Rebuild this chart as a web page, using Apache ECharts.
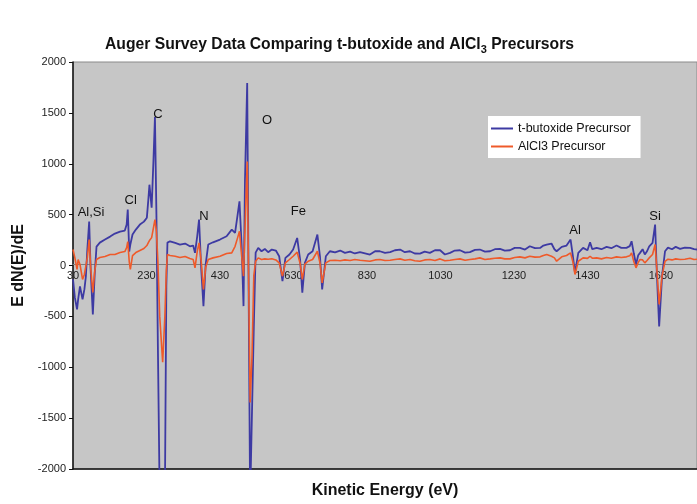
<!DOCTYPE html>
<html>
<head>
<meta charset="utf-8">
<title>Auger Survey Data</title>
<script src="https://cdn.jsdelivr.net/npm/echarts@6/dist/echarts.min.js"></script>
<style>
  html, body { margin: 0; padding: 0; background: #fff; }
  #chart { width: 697px; height: 504px; }
</style>
</head>
<body>
<div id="chart"></div>
<script>
// kinetic energy (eV) of each sample
const energy = [
  30, 35, 41, 44, 49, 56, 61, 65, 69, 74, 78, 84, 89, 94, 103, 117, 131, 144, 158, 171,
  176, 179, 183, 186, 192, 201, 212, 223, 231, 235, 238, 244, 249, 253, 257, 261, 266, 274, 280, 284,
  287, 294, 308, 321, 335, 348, 357, 362, 368, 373, 379, 385, 391, 398, 411, 430, 448, 462, 471, 478,
  483, 489, 494, 498, 504, 512, 517, 522, 527, 534, 543, 552, 561, 571, 582, 591, 600, 608, 619, 629,
  640, 648, 654, 661, 670, 682, 695, 702, 708, 718, 729, 743, 757, 770, 784, 797, 811, 838, 852, 865,
  879, 893, 906, 920, 933, 947, 960, 974, 987, 1001, 1015, 1029, 1042, 1056, 1069, 1083, 1097, 1110, 1124, 1137,
  1151, 1165, 1178, 1192, 1205, 1219, 1232, 1246, 1260, 1273, 1287, 1301, 1310, 1319, 1332, 1340, 1346, 1360, 1373, 1384,
  1390, 1396, 1405, 1418, 1430, 1437, 1443, 1455, 1468, 1482, 1495, 1509, 1522, 1536, 1545, 1550, 1556, 1562, 1568, 1573,
  1580, 1586, 1592, 1598, 1607, 1614, 1619, 1625, 1633, 1641, 1649, 1660, 1670, 1682, 1695, 1709, 1720, 1728
];
// t-butoxide precursor
const tButoxide = [
  -137, -314, -431, -333, -206, -333, -235, -108, 157, 431, -39, -480, -88, 186, 225, 255, 284, 314, 333, 343,
  402, 549, 137, 206, 304, 353, 402, 431, 470, 647, 794, 568, 1039, 1460, 500, -800, -2300, -2300, -2300, -200,
  225, 238, 222, 206, 216, 189, 196, 124, 287, 451, -39, -399, 10, 206, 228, 255, 287, 353, 320, 500,
  630, 189, -399, 843, 1793, -2300, -2300, -600, 127, 173, 140, 163, 131, 157, 147, 91, -154, 75, 108, 157,
  271, 59, -268, 26, 108, 140, 304, 91, -235, 91, 140, 130, 147, 124, 137, 118, 131, 108, 140, 140,
  124, 131, 150, 157, 131, 140, 118, 117, 137, 124, 150, 150, 108, 124, 147, 150, 127, 131, 153, 157,
  137, 140, 160, 163, 147, 150, 173, 173, 157, 189, 170, 173, 196, 206, 216, 160, 140, 183, 196, 255,
  100, -72, 124, 173, 150, 229, 160, 173, 160, 183, 170, 196, 173, 173, 190, 238, 120, 10, 100, 124,
  160, 108, 140, 189, 222, 402, -100, -598, -100, 140, 176, 160, 183, 163, 176, 173, 160, 157
];
// AlCl3 precursor
const alCl3 = [
  157, 78, -39, 59, 10, -137, -88, -69, 78, 255, -20, -265, -59, 59, 78, 88, 108, 108, 127, 137,
  176, 235, 39, -39, 98, 127, 147, 167, 196, 225, 245, 274, 372, 451, 333, 39, -500, -951, -500, -50,
  108, 98, 91, 78, 88, 69, 59, -23, 137, 222, 39, -235, -20, 59, 75, 91, 118, 124, 189, 274,
  336, 91, -105, 353, 1022, -1346, -900, -100, 42, 75, 59, 65, 62, 66, 55, 26, -105, 26, 59, 91,
  131, 20, -137, 13, 42, 59, 140, 26, -170, 26, 49, 52, 46, 55, 49, 59, 52, 42, 55, 59,
  49, 52, 59, 65, 52, 59, 46, 42, 55, 59, 49, 65, 46, 52, 59, 65, 52, 59, 65, 75,
  59, 65, 72, 75, 65, 65, 78, 85, 75, 91, 82, 85, 98, 108, 91, 75, 42, 85, 98, 124,
  40, -88, 42, 75, 70, 91, 72, 75, 65, 78, 72, 85, 78, 85, 95, 124, 40, -23, 30, 59,
  55, 26, 50, 75, 108, 206, -50, -382, -100, 40, 62, 55, 65, 59, 62, 72, 59, 62
];
const xTicks = [30, 230, 430, 630, 830, 1030, 1230, 1430, 1630];
const peakNames = ['Al,Si', 'Cl', 'C', 'N', 'O', 'Fe', 'Al', 'Si'];
const peakEnergy = [79, 187, 261, 386, 558, 643, 1396, 1614];
const peakLabelY = [520, 640, 1480, 480, 1430, 530, 340, 480];

const font = 'Liberation Sans, Arial, sans-serif';
const chart = echarts.init(document.getElementById('chart'));
const plain = (v) => String(v);

const option = {
  animation: false,
  backgroundColor: '#ffffff',
  textStyle: { fontFamily: font },
  title: {
    text: 'Auger Survey Data Comparing t-butoxide and AlCl{sub|3} Precursors',
    left: 100,
    top: 29,
    textStyle: {
      fontFamily: font,
      fontSize: 15.7,
      fontWeight: 'bold',
      color: '#111',
      lineHeight: 21,
      rich: {
        sub: { fontFamily: font, fontSize: 11, fontWeight: 'bold', color: '#111', verticalAlign: 'bottom', lineHeight: 21 }
      }
    }
  },
  legend: {
    orient: 'vertical',
    left: 488,
    top: 116,
    backgroundColor: '#ffffff',
    padding: [6, 10, 5, 3],
    itemGap: 5,
    itemWidth: 22,
    itemHeight: 2,
    icon: 'rect',
    textStyle: { fontFamily: font, fontSize: 12.5, color: '#111' },
    data: ['t-butoxide Precursor', 'AlCl3 Precursor']
  },
  grid: {
    left: 73,
    right: -2,
    top: 62,
    bottom: 33,
    show: true,
    backgroundColor: '#c6c6c6',
    borderColor: '#8a8a8a',
    borderWidth: 1
  },
  xAxis: [
    {
      // axis drawn through zero, carrying the energy labels
      type: 'value',
      min: 30,
      max: 1728,
      position: 'bottom',
      offset: -204.5,
      axisLine: { onZero: false, lineStyle: { color: '#7c7c7c', width: 1 } },
      axisTick: { show: false },
      splitLine: { show: false },
      axisLabel: {
        customValues: xTicks,
        formatter: plain,
        margin: 6,
        fontSize: 11,
        color: '#222',
        fontFamily: font
      }
    },
    {
      type: 'value',
      min: 30,
      max: 1728,
      position: 'bottom',
      name: 'Kinetic Energy (eV)',
      nameLocation: 'middle',
      nameGap: 14,
      nameTextStyle: {
        fontFamily: font,
        fontSize: 16,
        fontWeight: 'bold',
        color: '#111'
      },
      axisLine: { onZero: false, lineStyle: { color: '#111', width: 1.5 } },
      axisTick: { show: false },
      axisLabel: { show: false },
      splitLine: { show: false }
    }
  ],
  yAxis: {
    type: 'value',
    min: -2000,
    max: 2000,
    interval: 500,
    name: 'E dN(E)/dE',
    nameLocation: 'middle',
    nameGap: 35,
    nameTextStyle: { fontFamily: font, fontSize: 16, fontWeight: 'bold', color: '#111' },
    axisLine: { show: true, onZero: false, lineStyle: { color: '#111', width: 1.5 } },
    axisTick: { show: true, length: 4, lineStyle: { color: '#111' } },
    splitLine: { show: false },
    axisLabel: { formatter: plain, margin: 7, fontSize: 11, color: '#222', fontFamily: font }
  },
  series: [
    {
      name: 't-butoxide Precursor',
      type: 'line',
      xAxisIndex: 0,
      showSymbol: false,
      symbol: 'none',
      color: '#3d3aa3',
      lineStyle: { color: '#3d3aa3', width: 1.8 },
      data: energy.map((e, i) => [e, tButoxide[i]]),
      markPoint: {
        symbol: 'circle',
        symbolSize: 0,
        label: { show: true, formatter: '{b}', fontFamily: font, fontSize: 13, color: '#111' },
        data: peakNames.map((n, i) => ({ name: n, coord: [peakEnergy[i], peakLabelY[i]] }))
      }
    },
    {
      name: 'AlCl3 Precursor',
      type: 'line',
      xAxisIndex: 0,
      showSymbol: false,
      symbol: 'none',
      color: '#ef5a2a',
      lineStyle: { color: '#ef5a2a', width: 1.6 },
      data: energy.map((e, i) => [e, alCl3[i]])
    }
  ]
};
chart.setOption(option);
</script>
</body>
</html>
